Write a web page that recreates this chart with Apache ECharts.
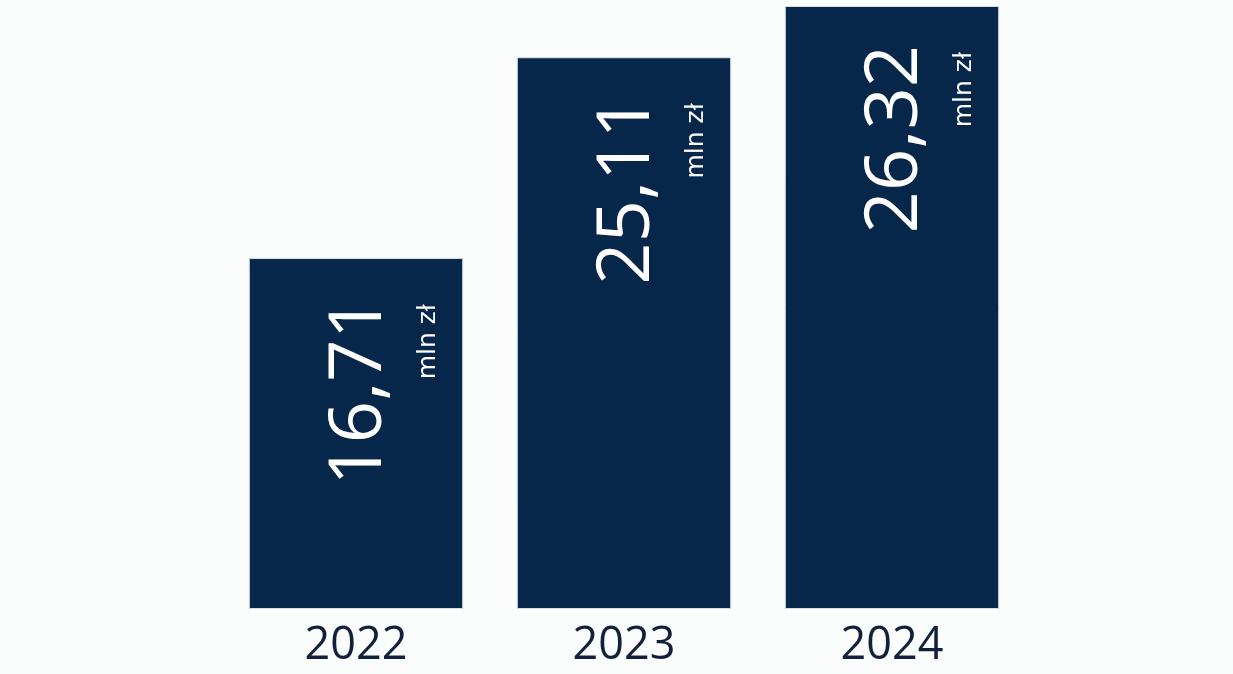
<!DOCTYPE html>
<html>
<head>
<meta charset="utf-8">
<script src="https://cdn.jsdelivr.net/npm/echarts@6/dist/echarts.min.js"></script>
<style>
  html, body { margin: 0; padding: 0; background: #fbfcfc; }
  #chart { width: 1233px; height: 674px; }
</style>
</head>
<body>
<div id="chart"></div>
<script>
// Categories (years)
const years = ['2022', '2023', '2024'];
// Values printed on the bars (mln zł)
const values = [16.71, 25.11, 26.32];
// Bar lengths as drawn in the infographic (not to scale), % of the tallest bar
const drawnLengths = [58.2, 91.5, 100];
const unitLabel = 'mln zł';

const chart = echarts.init(document.getElementById('chart'), null, { renderer: 'canvas' });

const fmt = v => v.toFixed(2).replace('.', ',');

chart.setOption({
  backgroundColor: '#fbfcfc',
  animation: false,
  grid: { left: 222, width: 804, top: 6, bottom: 65, containLabel: false },
  xAxis: {
    type: 'category',
    data: years,
    axisLine: { show: false },
    axisTick: { show: false },
    axisLabel: {
      margin: 15,
      color: '#13203b',
      fontSize: 45,
      fontFamily: "'Open Sans', sans-serif"
    }
  },
  yAxis: {
    type: 'value',
    min: 0,
    max: 100,
    show: false,
    splitLine: { show: false }
  },
  series: [{
    type: 'bar',
    data: drawnLengths,
    barCategoryGap: '20%',
    itemStyle: { color: '#06264a', borderColor: '#d5dde6', borderWidth: 1 },
    label: {
      show: true,
      position: 'insideTop',
      distance: 48,
      rotate: 90,
      align: 'right',
      verticalAlign: 'middle',
      offset: [9, 27],
      formatter: p => '{v|' + fmt(values[p.dataIndex]) + '}\n{u|' + unitLabel + '}',
      rich: {
        v: { color: '#ffffff', fontSize: 74, lineHeight: 90, fontFamily: "'Open Sans', sans-serif", align: 'right' },
        u: { color: '#ffffff', fontSize: 25, lineHeight: 46, fontFamily: "'DejaVu Sans', sans-serif", align: 'right', padding: [0, 7, 0, 0] }
      }
    }
  }]
});
</script>
</body>
</html>
